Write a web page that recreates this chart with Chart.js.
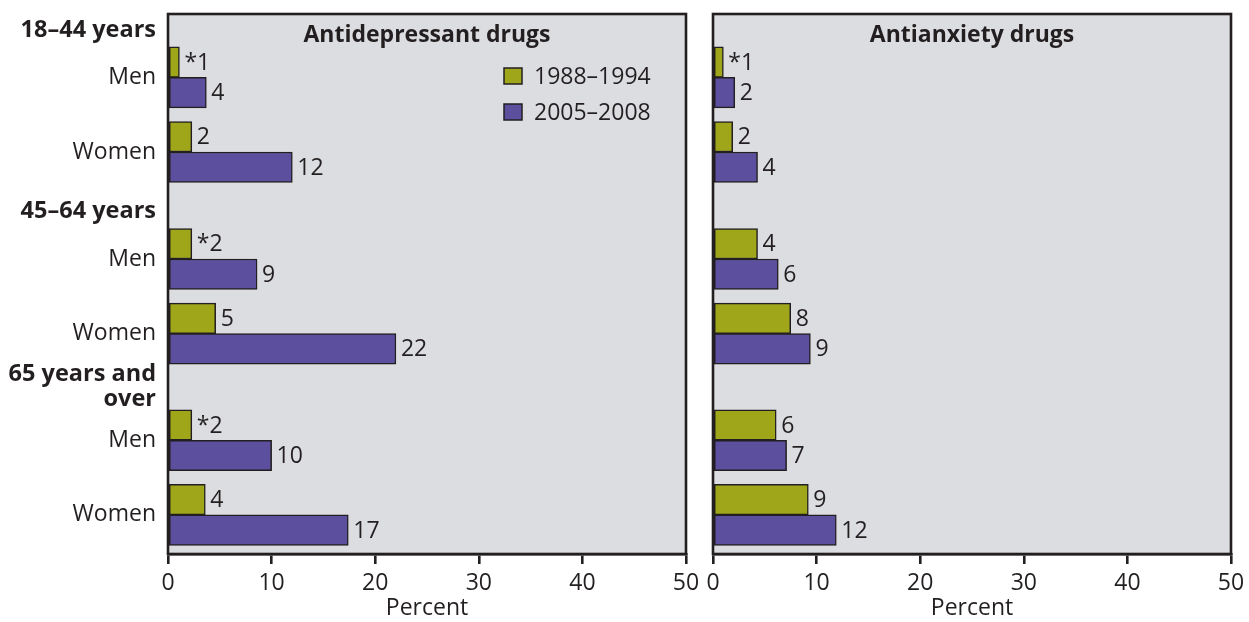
<!DOCTYPE html>
<html>
<head>
<meta charset="utf-8">
<script src="https://cdn.jsdelivr.net/npm/chart.js@4.4.1/dist/chart.umd.min.js"></script>
<style>
  html, body { margin: 0; padding: 0; background: #fff; }
  #wrap { position: relative; width: 1249px; height: 622px; }
  #leftBox { position: absolute; left: 0; top: 0; width: 700px; height: 622px; }
  #rightBox { position: absolute; left: 700px; top: 0; width: 549px; height: 622px; }
</style>
</head>
<body>
<div id="wrap">
  <div id="leftBox"><canvas id="leftChart"></canvas></div>
  <div id="rightBox"><canvas id="rightChart"></canvas></div>
</div>
<script>
// --- Datos ---
const rowLabels = ['18–44 years', 'Men', 'Women', '45–64 years', 'Men', 'Women', ['65 years and', 'over'], 'Men', 'Women'];
const rowIsGroup = [true, false, false, true, false, false, true, false, false];
const rowPos = [0.43, 1.7, 3.7, 5.28, 6.57, 8.57, 10.0, 11.43, 13.43];
const periods = ['1988–1994', '2005–2008'];
const panelTitles = ['Antidepressant drugs', 'Antianxiety drugs'];

const antidep1988 = [1.1, 2.3, 2.3, 4.6, 2.3, 3.6];
const antidep2005 = [3.7, 12.0, 8.6, 22.0, 10.0, 17.4];
const antidep1988Text = ['*1', '2', '*2', '5', '*2', '4'];
const antidep2005Text = ['4', '12', '9', '22', '10', '17'];

const antianx1988 = [1.0, 1.9, 4.3, 7.5, 6.1, 9.2];
const antianx2005 = [2.1, 4.3, 6.3, 9.4, 7.1, 11.9];
const antianx1988Text = ['*1', '2', '4', '8', '6', '9'];
const antianx2005Text = ['2', '4', '6', '9', '7', '12'];

const xTicks = [0, 10, 20, 30, 40, 50];

// --- Estilos ---
const FONT = '"Open Sans", "DejaVu Sans", sans-serif';
const INK = '#231f20';
const GREEN = '#9fa61a';
const PURPLE = '#5b4f9e';
const PANEL = '#dcdde0';

const barRows = rowPos.filter((p, i) => !rowIsGroup[i]);

function makeDataset(label, values, texts, color) {
    return {
        label: label,
        data: values.map((v, i) => ({ x: v, y: barRows[i] })),
        valueText: texts,
        backgroundColor: color,
        borderColor: INK,
        borderWidth: 1.5,
        borderSkipped: false,
        barThickness: 30.5
    };
}

const panelPlugin = {
    id: 'panelDecor',
    beforeDatasetsDraw(chart) {
        const a = chart.chartArea;
        const ctx = chart.ctx;
        ctx.save();
        ctx.fillStyle = PANEL;
        ctx.fillRect(a.left, a.top, a.right - a.left, a.bottom - a.top);
        ctx.restore();
    },
    afterDatasetsDraw(chart) {
        const ctx = chart.ctx;
        const a = chart.chartArea;
        ctx.save();
        ctx.font = '23px ' + FONT;
        ctx.fillStyle = INK;
        ctx.textBaseline = 'middle';
        ctx.textAlign = 'left';
        chart.data.datasets.forEach((ds, di) => {
            chart.getDatasetMeta(di).data.forEach((bar, i) => {
                ctx.fillText(ds.valueText[i], bar.x + 5, bar.y + 1);
            });
        });

        // marco del panel
        ctx.strokeStyle = INK;
        ctx.lineWidth = 2.6;
        ctx.strokeRect(a.left, a.top, a.right - a.left, a.bottom - a.top);

        // título
        const opts = chart.options.plugins.panelDecor;
        ctx.font = 'bold 23px ' + FONT;
        ctx.textAlign = 'center';
        ctx.fillText(opts.title, (a.left + a.right) / 2, a.top + 21);

        // leyenda
        if (opts.legend) {
            ctx.font = '23px ' + FONT;
            ctx.textAlign = 'left';
            chart.data.datasets.forEach((ds, di) => {
                const y = a.top + 62 + di * 36;
                const x = a.right - 182;
                ctx.fillStyle = ds.backgroundColor;
                ctx.fillRect(x, y - 8, 18, 16);
                ctx.lineWidth = 1.5;
                ctx.strokeStyle = INK;
                ctx.strokeRect(x, y - 8, 18, 16);
                ctx.fillStyle = INK;
                ctx.fillText(ds.label, x + 30, y + 1);
            });
        }
        ctx.restore();
    }
};

function buildChart(canvasId, title, d1, d2, showLabels, legend) {
    const ctx = document.getElementById(canvasId).getContext('2d');
    return new Chart(ctx, {
        type: 'bar',
        data: {
            datasets: [
                makeDataset(periods[0], d1.values, d1.texts, GREEN),
                makeDataset(periods[1], d2.values, d2.texts, PURPLE)
            ]
        },
        options: {
            indexAxis: 'y',
            responsive: true,
            maintainAspectRatio: false,
            animation: false,
            layout: {
                padding: showLabels
                    ? { top: 14, right: 14, left: 0, bottom: 0 }
                    : { top: 14, right: 18, left: 13, bottom: 0 }
            },
            plugins: {
                legend: { display: false },
                tooltip: { enabled: false },
                panelDecor: { title: title, legend: legend }
            },
            scales: {
                x: {
                    type: 'linear',
                    min: 0,
                    max: 50,
                    afterBuildTicks: s => { s.ticks = xTicks.map(v => ({ value: v })); },
                    afterFit: s => {
                        s.height = 68;
                        s.paddingLeft = 0;
                        s.paddingRight = 0;
                    },
                    grid: {
                        drawOnChartArea: false,
                        drawTicks: true,
                        tickLength: 10,
                        color: INK,
                        lineWidth: 2.6
                    },
                    border: { display: true, color: INK, width: 2.6 },
                    ticks: {
                        color: INK,
                        font: { family: FONT, size: 23 },
                        padding: 6,
                        maxRotation: 0
                    },
                    title: {
                        display: true,
                        text: 'Percent',
                        color: INK,
                        font: { family: FONT, size: 23 },
                        padding: { top: 0, bottom: 0 }
                    }
                },
                y: {
                    type: 'linear',
                    reverse: true,
                    offset: false,
                    min: 0,
                    max: 14.48,
                    display: showLabels,
                    afterBuildTicks: s => { s.ticks = rowPos.map(v => ({ value: v })); },
                    afterFit: s => {
                        s.width = showLabels ? 168 : 0;
                        s.paddingTop = 0;
                        s.paddingBottom = 0;
                    },
                    grid: { display: false, drawTicks: false },
                    border: { display: false },
                    ticks: {
                        autoSkip: false,
                        padding: 12,
                        color: INK,
                        callback: (v, i) => rowLabels[i],
                        font: c => rowIsGroup[c.index]
                            ? { family: FONT, size: 23.5, weight: 'bold', lineHeight: 1.04 }
                            : { family: FONT, size: 23 }
                    }
                }
            }
        },
        plugins: [panelPlugin]
    });
}

buildChart('leftChart', panelTitles[0],
    { values: antidep1988, texts: antidep1988Text },
    { values: antidep2005, texts: antidep2005Text }, true, true);

buildChart('rightChart', panelTitles[1],
    { values: antianx1988, texts: antianx1988Text },
    { values: antianx2005, texts: antianx2005Text }, false, false);
</script>
</body>
</html>
